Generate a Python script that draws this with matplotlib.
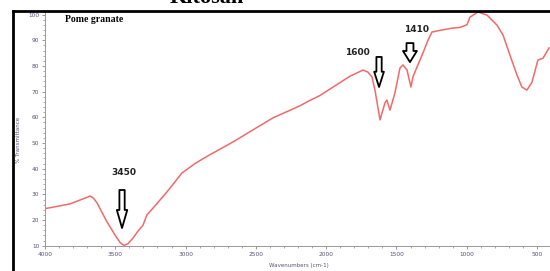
import matplotlib
matplotlib.use("Agg")
import matplotlib.pyplot as plt
from matplotlib.lines import Line2D
from matplotlib.ticker import MultipleLocator

# Spectrum (wavenumber cm-1, % transmittance)
wavenumber = [4000, 3964, 3822, 3694, 3680, 3655, 3630, 3595, 3559, 3520, 3488,
              3465, 3438, 3410, 3374, 3340, 3303, 3275, 3218, 3132, 3026, 2933,
              2848, 2663, 2506, 2378, 2186, 2129, 2044, 1888, 1831, 1738, 1703,
              1674, 1653, 1617, 1582, 1568, 1546, 1511, 1475, 1454, 1425, 1397,
              1383, 1354, 1312, 1276, 1248, 1176, 1105, 1048, 999, 977, 920,
              856, 785, 742, 693, 643, 608, 572, 536, 494, 458, 415]
transmittance = [24.5, 24.8, 26.3, 29.0, 29.4, 28.5, 26.7, 23.0, 19.3, 15.8, 13.0,
                 11.2, 10.1, 10.8, 13.0, 15.6, 18.0, 22.0, 25.5, 31.0, 38.3, 42.0,
                 44.8, 50.4, 55.6, 59.8, 64.5, 66.2, 68.5, 74.0, 76.0, 78.4, 77.6,
                 75.7, 70.6, 59.0, 65.6, 66.7, 62.8, 69.5, 79.2, 80.4, 78.4, 71.8,
                 75.7, 79.6, 85.0, 90.0, 93.2, 94.0, 94.7, 95.0, 96.0, 99.0, 101.0,
                 99.8, 95.9, 92.0, 84.2, 76.5, 71.8, 70.6, 73.7, 82.3, 83.0, 87.0]

# Annotated peaks: label, arrow x, arrow top, arrow tip, label x, label y
peak_labels = ["3450", "1600", "1410"]
arrow_x = [3452, 1624, 1404]
arrow_top = [31.7, 83.5, 88.9]
arrow_tip = [16.9, 71.8, 81.5]
label_x = [3438, 1781, 1354]
label_y = [38.7, 85.4, 94.0]
# arrow shapes (tail width, head width, head length)
arrow_shape = [(0.38, 0.75, 1.30), (0.38, 0.70, 1.10), (0.50, 1.00, 0.80)]

x_ticks = [4000, 3500, 3000, 2500, 2000, 1500, 1000, 500]
y_ticks = [10, 20, 30, 40, 50, 60, 70, 80, 90, 100]

W, H = 550, 271
fig = plt.figure(figsize=(W / 100, H / 100), dpi=100)
ax = fig.add_axes([45 / W, 1 - 246 / H, 1 - 45 / W, (246 - 12) / H])

ax.plot(wavenumber, transmittance, color="#f06a6a", lw=1.1)
ax.set_xlim(4000, 408)
ax.set_ylim(9.9, 101)

tick_col = "#55557a"
ax.set_xticks(x_ticks)
ax.set_yticks(y_ticks)
ax.xaxis.set_minor_locator(MultipleLocator(100))
ax.yaxis.set_minor_locator(MultipleLocator(2))
ax.tick_params(axis="both", which="major", labelsize=4.2, colors="#888888",
               labelcolor=tick_col, length=2.5, width=0.6, pad=1.5)
ax.tick_params(axis="both", which="minor", colors="#888888", length=1.5, width=0.5)
for s in ["top", "right"]:
    ax.spines[s].set_visible(False)
for s in ["left", "bottom"]:
    ax.spines[s].set_color("#999999")
    ax.spines[s].set_linewidth(0.7)

for lab, xa, yt, yb, lx, ly, shp in zip(peak_labels, arrow_x, arrow_top, arrow_tip,
                                       label_x, label_y, arrow_shape):
    tw, hw, hl = shp
    ax.annotate("", xy=(xa, yb), xytext=(xa, yt),
                arrowprops=dict(arrowstyle=f"simple,head_width={hw},head_length={hl},tail_width={tw}",
                                fc="white", ec="black", lw=1.3, mutation_scale=10,
                                shrinkA=0, shrinkB=0))
    ax.text(lx, ly, lab, fontsize=6.5, fontweight="semibold", ha="center", va="center",
            color="#222222")

ax.text(3860, 98, "Pome granate", fontsize=7, fontweight="bold",
        family="Liberation Serif", ha="left", va="center")

fig.text(299 / W, 1 - 265 / H, "Wavenumbers (cm-1)", fontsize=4, color=tick_col,
         ha="center", va="center")
fig.text(19 / W, 1 - 140 / H, "% Transmittance", fontsize=4, color=tick_col,
         ha="center", va="center", rotation=90)

# outer frame
fig.add_artist(Line2D([13 / W, 13 / W], [0, 1 - 11 / H], transform=fig.transFigure,
                      color="black", lw=2))
fig.add_artist(Line2D([13 / W, 1], [1 - 11 / H, 1 - 11 / H], transform=fig.transFigure,
                      color="black", lw=2))

# clipped title from above
fig.text(207 / W, 1 - 3 / H, "Kitosan", fontsize=16, fontweight="bold",
         family="Liberation Serif", ha="center", va="baseline")

fig.savefig("out.png", dpi=100)
